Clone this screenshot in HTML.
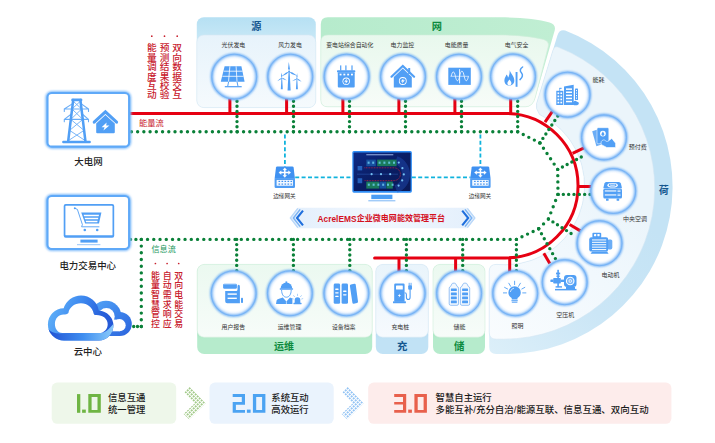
<!DOCTYPE html>
<html lang="zh"><head><meta charset="utf-8"><title>AcrelEMS企业微电网能效管理平台</title>
<style>
html,body{margin:0;padding:0;background:#fff;}
body{width:715px;height:443px;overflow:hidden;font-family:"Liberation Sans","Noto Sans CJK SC",sans-serif;}
svg{display:block}
svg text{font-family:"Liberation Sans","Noto Sans CJK SC",sans-serif;}
</style></head><body>
<svg width="715" height="443" viewBox="0 0 715 443">
<defs>
<radialGradient id="glow" cx="50%" cy="50%" r="50%">
<stop offset="0.86" stop-color="#7db8f5" stop-opacity="0.7"/>
<stop offset="0.94" stop-color="#a9d0f8" stop-opacity="0.45"/>
<stop offset="1" stop-color="#cfe5fb" stop-opacity="0"/>
</radialGradient>
<radialGradient id="cfill" cx="50%" cy="50%" r="50%">
<stop offset="0.78" stop-color="#ffffff"/>
<stop offset="0.9" stop-color="#e9f3fe"/>
<stop offset="1" stop-color="#cfe4fb"/>
</radialGradient>
<linearGradient id="bluePanel" x1="0" y1="0" x2="0" y2="1"><stop offset="0" stop-color="#e7f3fb"/><stop offset="1" stop-color="#f5fafd"/></linearGradient>
<linearGradient id="greenPanel" x1="0" y1="0" x2="0" y2="1"><stop offset="0" stop-color="#e8f8ed"/><stop offset="1" stop-color="#f7fcf8"/></linearGradient>
<linearGradient id="greenPanelB" x1="0" y1="1" x2="0" y2="0"><stop offset="0" stop-color="#e4f7ea"/><stop offset="1" stop-color="#f5fcf7"/></linearGradient>
<linearGradient id="bluePanelB" x1="0" y1="1" x2="0" y2="0"><stop offset="0" stop-color="#e1f0fa"/><stop offset="1" stop-color="#f4f9fd"/></linearGradient>
<linearGradient id="greenHead" x1="0" y1="0" x2="1" y2="0"><stop offset="0" stop-color="#b6ebcc"/><stop offset="1" stop-color="#c0eed3"/></linearGradient>
<linearGradient id="loadBand" gradientUnits="userSpaceOnUse" x1="489" y1="353" x2="620" y2="200"><stop offset="0" stop-color="#dceff9"/><stop offset="0.5" stop-color="#cbe6f6"/><stop offset="1" stop-color="#c4e3f5"/></linearGradient>
<linearGradient id="loadPanel" gradientUnits="userSpaceOnUse" x1="489" y1="340" x2="610" y2="190"><stop offset="0" stop-color="#f9fcfe"/><stop offset="0.6" stop-color="#f1f8fd"/><stop offset="1" stop-color="#ebf5fb"/></linearGradient>
<linearGradient id="greenPanel2" x1="0" y1="0" x2="0" y2="1"><stop offset="0" stop-color="#ebf9f0"/><stop offset="1" stop-color="#f7fcf9"/></linearGradient>
<linearGradient id="bluePanel2" x1="0" y1="0" x2="0" y2="1"><stop offset="0" stop-color="#e9f4fb"/><stop offset="1" stop-color="#f6fafe"/></linearGradient>
<linearGradient id="shG" x1="0" y1="0" x2="0" y2="1"><stop offset="0" stop-color="#8fd9ae" stop-opacity="0.55"/><stop offset="1" stop-color="#b6ebcc" stop-opacity="0"/></linearGradient>
<linearGradient id="shB" x1="0" y1="0" x2="0" y2="1"><stop offset="0" stop-color="#9cc9e8" stop-opacity="0.55"/><stop offset="1" stop-color="#c1e2f5" stop-opacity="0"/></linearGradient>
<linearGradient id="blueHead" gradientUnits="userSpaceOnUse" x1="0" y1="17" x2="0" y2="40"><stop offset="0" stop-color="#b6e0f3"/><stop offset="1" stop-color="#c8e8f6"/></linearGradient>
<filter id="ringblur" x="-15%" y="-15%" width="130%" height="130%"><feGaussianBlur stdDeviation="0.95"/></filter>
<filter id="boxglow" x="-20%" y="-20%" width="140%" height="140%"><feGaussianBlur stdDeviation="1.1"/></filter>
<linearGradient id="cloudA" gradientUnits="userSpaceOnUse" x1="50" y1="302" x2="112" y2="326"><stop offset="0" stop-color="#62b4f9"/><stop offset="0.45" stop-color="#3d88ef"/><stop offset="0.8" stop-color="#2860da"/><stop offset="1" stop-color="#2458d6"/></linearGradient>
<linearGradient id="cloudB" gradientUnits="userSpaceOnUse" x1="100" y1="300" x2="132" y2="336"><stop offset="0" stop-color="#4f9ef4"/><stop offset="0.5" stop-color="#3a80ea"/><stop offset="1" stop-color="#2c63dc"/></linearGradient>
<linearGradient id="cloudC" gradientUnits="userSpaceOnUse" x1="52" y1="0" x2="114" y2="0"><stop offset="0" stop-color="#2558d6"/><stop offset="0.5" stop-color="#3f8ef0"/><stop offset="1" stop-color="#8ccbfa"/></linearGradient>
<linearGradient id="screen" x1="0" y1="0" x2="1" y2="1"><stop offset="0" stop-color="#0d2a86"/><stop offset="0.5" stop-color="#0a1d64"/><stop offset="1" stop-color="#0b1a58"/></linearGradient>
<linearGradient id="banner" x1="0" y1="0" x2="1" y2="0"><stop offset="0" stop-color="#e3effc"/><stop offset="0.5" stop-color="#f1f7fe"/><stop offset="1" stop-color="#e3effc"/></linearGradient>
<pattern id="dotG" width="2.83" height="2.83" patternUnits="userSpaceOnUse" patternTransform="translate(189.7,388.4) rotate(45)"><rect x="-0.68" y="-0.68" width="1.36" height="1.36" fill="#4f9a1e"/><rect x="-0.68" y="2.15" width="1.36" height="1.36" fill="#4f9a1e"/><rect x="2.15" y="-0.68" width="1.36" height="1.36" fill="#4f9a1e"/><rect x="2.15" y="2.15" width="1.36" height="1.36" fill="#4f9a1e"/></pattern>
<pattern id="dotB" width="2.83" height="2.83" patternUnits="userSpaceOnUse" patternTransform="translate(347.7,388.4) rotate(45)"><rect x="-0.68" y="-0.68" width="1.36" height="1.36" fill="#2f8cea"/><rect x="-0.68" y="2.15" width="1.36" height="1.36" fill="#2f8cea"/><rect x="2.15" y="-0.68" width="1.36" height="1.36" fill="#2f8cea"/><rect x="2.15" y="2.15" width="1.36" height="1.36" fill="#2f8cea"/></pattern>
</defs>
<rect width="715" height="443" fill="#fff"/>

<rect x="196.8" y="17.3" width="119" height="90.3" rx="7" fill="url(#blueHead)"/>
<rect x="196.8" y="35" width="119" height="72.6" rx="7" fill="url(#bluePanel)" stroke="#d6e8f4" stroke-width="0.6"/>
<text x="256.3" y="29.5" font-size="10.2" fill="#14578f" text-anchor="middle" font-weight="bold" >源</text>
<path d="M327.8,17.3 L500,17.3 C520,17.3 538,19.2 549.6,22.4 Q556.2,24.4 554.7,30.4 L535.4,97 Q533,106.8 525.4,106.8 L327.8,106.8 Q320.8,106.8 320.8,99.8 L320.8,24.3 Q320.8,17.3 327.8,17.3 Z" fill="url(#greenHead)"/>
<path d="M327.8,35 L500,35 C516,35 532,36.6 543.4,39.4 Q549.6,41.2 548.2,46.8 L535.4,97 Q533,106.8 525.4,106.8 L327.8,106.8 Q320.8,106.8 320.8,99.8 L320.8,42 Q320.8,35 327.8,35 Z" fill="url(#greenPanel)" stroke="#d2eedb" stroke-width="0.6"/>
<text x="436.8" y="29.5" font-size="10.2" fill="#0d8a3e" text-anchor="middle" font-weight="bold" >网</text>
<path d="M557.4,35.6 Q559.2,29.2 565.2,30.6 A167.3,167.3 0 0 1 505.2,354.1 L496.2,354.1 Q489.2,354.1 489.2,347.1 L489.2,271.4 Q489.2,264.4 496.2,264.4 L505.6,264.8 A79.0,79.0 0 0 0 539.6,114.5 Q535.2,108.2 536.6,103.4 Z" fill="url(#loadBand)"/>
<path d="M552.8,50.8 Q554.6,44.8 559.2,47.6 A151.1,151.1 0 0 1 503.6,339.2 L496.2,339.2 Q489.2,339.2 489.2,332.2 L489.2,271.4 Q489.2,264.4 496.2,264.4 L505.6,264.8 A79.0,79.0 0 0 0 539.6,114.5 Q535.2,108.2 536.6,103.4 Z" fill="url(#loadPanel)" stroke="#d3e6f3" stroke-width="0.6"/>
<text x="663.7" y="194.4" font-size="10" fill="#14578f" text-anchor="middle" font-weight="bold" >荷</text>
<rect x="197.2" y="264.4" width="175" height="89.6" rx="7" fill="#b6ebcc"/>
<rect x="197.2" y="329" width="175" height="12.4" rx="6" fill="url(#shG)"/>
<rect x="197.2" y="264.4" width="175" height="72.8" rx="7" fill="url(#greenPanel2)" stroke="#d2eedb" stroke-width="0.6"/>
<text x="283.9" y="349.6" font-size="10" fill="#0d8a3e" text-anchor="middle" font-weight="bold" >运维</text>
<rect x="375.8" y="264.4" width="52.5" height="89.6" rx="7" fill="#c1e2f5"/>
<rect x="375.8" y="329" width="52.5" height="12.4" rx="6" fill="url(#shB)"/>
<rect x="375.8" y="264.4" width="52.5" height="72.8" rx="7" fill="url(#bluePanel2)" stroke="#d6e8f4" stroke-width="0.6"/>
<text x="402.3" y="349.6" font-size="10.4" fill="#14578f" text-anchor="middle" font-weight="bold" >充</text>
<rect x="433" y="264.4" width="52" height="89.6" rx="7" fill="#b6ebcc"/>
<rect x="433" y="329" width="52" height="12.4" rx="6" fill="url(#shG)"/>
<rect x="433" y="264.4" width="52" height="72.8" rx="7" fill="url(#greenPanel2)" stroke="#d2eedb" stroke-width="0.6"/>
<text x="459.2" y="349.6" font-size="10.4" fill="#0d8a3e" text-anchor="middle" font-weight="bold" >储</text>
<g fill="none" stroke="#e60012" stroke-width="3">
<path d="M129.6,113.4 L505.8,113.4 A72.24999999999999,72.24999999999999 0 0 1 505.8,257.9 L374.6,257.9" stroke-linecap="round"/>
<path d="M229.9,97 L229.9,113.4"/>
<path d="M286.6,97 L286.6,113.4"/>
<path d="M342.9,97 L342.9,113.4"/>
<path d="M398.9,97 L398.9,113.4"/>
<path d="M454.9,97 L454.9,113.4"/>
<path d="M510.7,97 L510.7,113.4"/>
<path d="M399,257.9 L399,273"/>
<path d="M455.6,257.9 L455.6,273"/>
<path d="M509.7,257.9 L509.7,273"/>
<path d="M545,122.1 L552.2,111.6"/>
<path d="M572.6,153.4 L584,147.8"/>
<path d="M578,186.5 L591,186.5"/>
<path d="M569.6,224.5 L580.4,230.9"/>
<path d="M543.8,253.3 L549.8,263.4"/>
</g>
<g fill="none" stroke="#0a8038" stroke-width="3.4" stroke-linecap="round">
<path d="M131.4,131.8 L517.7,131.8" stroke-dasharray="0 6.231"/>
<path d="M517.7,131.8 L539.9,142.9" stroke-dasharray="0 6.205"/>
<path d="M539.9,142.9 L557.7,169.4" stroke-dasharray="0 6.385"/>
<path d="M557.7,169.4 L558,194.4" stroke-dasharray="0 6.250"/>
<path d="M558,194.4 L548.4,219" stroke-dasharray="0 6.602"/>
<path d="M548.4,219 L538.7,228.8" stroke-dasharray="0 6.894"/>
<path d="M538.7,228.8 L516.4,239.4" stroke-dasharray="0 6.173"/>
<path d="M516.4,239.4 L141.3,239.4" stroke-dasharray="0 6.252"/>
<path d="M141.3,239.4 L141.3,326.5" stroke-dasharray="0 6.700"/>
<path d="M141.3,326.5 L133.7,326.5" stroke-dasharray="0 3.800"/>
<path d="M141.3,239.4 L130.5,239.4" stroke-dasharray="0 5.400"/>
<path d="M237,131.8 L237,101.2" stroke-dasharray="0 5.100"/>
<path d="M293.5,131.8 L293.5,101.2" stroke-dasharray="0 5.100"/>
<path d="M349.5,131.8 L349.5,101.2" stroke-dasharray="0 5.100"/>
<path d="M405.5,131.8 L405.5,101.2" stroke-dasharray="0 5.100"/>
<path d="M461.5,131.8 L461.5,101.2" stroke-dasharray="0 5.100"/>
<path d="M517.7,131.8 L517.7,101.2" stroke-dasharray="0 5.100"/>
<path d="M236.7,239.4 L236.7,270.6" stroke-dasharray="0 5.200"/>
<path d="M293.4,239.4 L293.4,270.6" stroke-dasharray="0 5.200"/>
<path d="M349.8,239.4 L349.8,270.6" stroke-dasharray="0 5.200"/>
<path d="M406.4,239.4 L406.4,270.6" stroke-dasharray="0 5.200"/>
<path d="M462.7,239.4 L462.7,270.6" stroke-dasharray="0 5.200"/>
<path d="M516.4,239.4 L516.4,270.6" stroke-dasharray="0 5.200"/>
<path d="M539.9,142.9 L557.8,116" stroke-dasharray="0 5.385"/>
<path d="M557.7,169.4 L586,154.6" stroke-dasharray="0 5.323"/>
<path d="M558,194.4 L590,194.4" stroke-dasharray="0 5.333"/>
<path d="M548.4,219 L575.6,236.4" stroke-dasharray="0 5.382"/>
<path d="M538.7,228.8 L555.4,258.6" stroke-dasharray="0 5.693"/>
</g>
<g fill="none" stroke="#10b3dd" stroke-width="1.8" stroke-dasharray="4 2.4">
<path d="M284.9,134.4 L284.9,167"/>
<path d="M295.2,177.4 L352.4,177.4"/>
<path d="M411.8,177.4 L470.6,177.4"/>
<path d="M480.4,134.4 L480.4,167"/>
</g>
<circle cx="234.2" cy="76.7" r="22.5" fill="url(#cfill)"/><circle cx="234.2" cy="76.7" r="22.5" fill="none" stroke="#5fa6f4" stroke-width="2.1" filter="url(#ringblur)"/><circle cx="234.2" cy="76.7" r="22.5" fill="none" stroke="#74b1f5" stroke-width="0.9"/>
<circle cx="290.2" cy="76.7" r="22.5" fill="url(#cfill)"/><circle cx="290.2" cy="76.7" r="22.5" fill="none" stroke="#5fa6f4" stroke-width="2.1" filter="url(#ringblur)"/><circle cx="290.2" cy="76.7" r="22.5" fill="none" stroke="#74b1f5" stroke-width="0.9"/>
<circle cx="346.6" cy="76.7" r="22.5" fill="url(#cfill)"/><circle cx="346.6" cy="76.7" r="22.5" fill="none" stroke="#5fa6f4" stroke-width="2.1" filter="url(#ringblur)"/><circle cx="346.6" cy="76.7" r="22.5" fill="none" stroke="#74b1f5" stroke-width="0.9"/>
<circle cx="403" cy="76.7" r="22.5" fill="url(#cfill)"/><circle cx="403" cy="76.7" r="22.5" fill="none" stroke="#5fa6f4" stroke-width="2.1" filter="url(#ringblur)"/><circle cx="403" cy="76.7" r="22.5" fill="none" stroke="#74b1f5" stroke-width="0.9"/>
<circle cx="459" cy="76.7" r="22.5" fill="url(#cfill)"/><circle cx="459" cy="76.7" r="22.5" fill="none" stroke="#5fa6f4" stroke-width="2.1" filter="url(#ringblur)"/><circle cx="459" cy="76.7" r="22.5" fill="none" stroke="#74b1f5" stroke-width="0.9"/>
<circle cx="513" cy="76.5" r="22.5" fill="url(#cfill)"/><circle cx="513" cy="76.5" r="22.5" fill="none" stroke="#5fa6f4" stroke-width="2.1" filter="url(#ringblur)"/><circle cx="513" cy="76.5" r="22.5" fill="none" stroke="#74b1f5" stroke-width="0.9"/>
<circle cx="567.6" cy="94.7" r="22.5" fill="url(#cfill)"/><circle cx="567.6" cy="94.7" r="22.5" fill="none" stroke="#5fa6f4" stroke-width="2.1" filter="url(#ringblur)"/><circle cx="567.6" cy="94.7" r="22.5" fill="none" stroke="#74b1f5" stroke-width="0.9"/>
<circle cx="604" cy="137.4" r="22.5" fill="url(#cfill)"/><circle cx="604" cy="137.4" r="22.5" fill="none" stroke="#5fa6f4" stroke-width="2.1" filter="url(#ringblur)"/><circle cx="604" cy="137.4" r="22.5" fill="none" stroke="#74b1f5" stroke-width="0.9"/>
<circle cx="613.2" cy="191" r="22.5" fill="url(#cfill)"/><circle cx="613.2" cy="191" r="22.5" fill="none" stroke="#5fa6f4" stroke-width="2.1" filter="url(#ringblur)"/><circle cx="613.2" cy="191" r="22.5" fill="none" stroke="#74b1f5" stroke-width="0.9"/>
<circle cx="599.5" cy="243.2" r="22.5" fill="url(#cfill)"/><circle cx="599.5" cy="243.2" r="22.5" fill="none" stroke="#5fa6f4" stroke-width="2.1" filter="url(#ringblur)"/><circle cx="599.5" cy="243.2" r="22.5" fill="none" stroke="#74b1f5" stroke-width="0.9"/>
<circle cx="564.7" cy="282.2" r="22.5" fill="url(#cfill)"/><circle cx="564.7" cy="282.2" r="22.5" fill="none" stroke="#5fa6f4" stroke-width="2.1" filter="url(#ringblur)"/><circle cx="564.7" cy="282.2" r="22.5" fill="none" stroke="#74b1f5" stroke-width="0.9"/>
<circle cx="233.7" cy="293.3" r="22.5" fill="url(#cfill)"/><circle cx="233.7" cy="293.3" r="22.5" fill="none" stroke="#5fa6f4" stroke-width="2.1" filter="url(#ringblur)"/><circle cx="233.7" cy="293.3" r="22.5" fill="none" stroke="#74b1f5" stroke-width="0.9"/>
<circle cx="289.9" cy="293.3" r="22.5" fill="url(#cfill)"/><circle cx="289.9" cy="293.3" r="22.5" fill="none" stroke="#5fa6f4" stroke-width="2.1" filter="url(#ringblur)"/><circle cx="289.9" cy="293.3" r="22.5" fill="none" stroke="#74b1f5" stroke-width="0.9"/>
<circle cx="346.4" cy="293.3" r="22.5" fill="url(#cfill)"/><circle cx="346.4" cy="293.3" r="22.5" fill="none" stroke="#5fa6f4" stroke-width="2.1" filter="url(#ringblur)"/><circle cx="346.4" cy="293.3" r="22.5" fill="none" stroke="#74b1f5" stroke-width="0.9"/>
<circle cx="402.7" cy="293.3" r="22.5" fill="url(#cfill)"/><circle cx="402.7" cy="293.3" r="22.5" fill="none" stroke="#5fa6f4" stroke-width="2.1" filter="url(#ringblur)"/><circle cx="402.7" cy="293.3" r="22.5" fill="none" stroke="#74b1f5" stroke-width="0.9"/>
<circle cx="459.1" cy="293.3" r="22.5" fill="url(#cfill)"/><circle cx="459.1" cy="293.3" r="22.5" fill="none" stroke="#5fa6f4" stroke-width="2.1" filter="url(#ringblur)"/><circle cx="459.1" cy="293.3" r="22.5" fill="none" stroke="#74b1f5" stroke-width="0.9"/>
<circle cx="515.2" cy="293.3" r="22.5" fill="url(#cfill)"/><circle cx="515.2" cy="293.3" r="22.5" fill="none" stroke="#5fa6f4" stroke-width="2.1" filter="url(#ringblur)"/><circle cx="515.2" cy="293.3" r="22.5" fill="none" stroke="#74b1f5" stroke-width="0.9"/>
<text x="233.4" y="47.1" font-size="5.9" fill="#333" text-anchor="middle" font-weight="normal" >光伏发电</text>
<text x="290" y="47.1" font-size="5.9" fill="#333" text-anchor="middle" font-weight="normal" >风力发电</text>
<text x="349.8" y="47.1" font-size="5.9" fill="#333" text-anchor="middle" font-weight="normal" >变电站综合自动化</text>
<text x="402.4" y="47.1" font-size="5.9" fill="#333" text-anchor="middle" font-weight="normal" >电力监控</text>
<text x="456.6" y="47.1" font-size="5.9" fill="#333" text-anchor="middle" font-weight="normal" >电能质量</text>
<text x="516.6" y="47.1" font-size="5.9" fill="#333" text-anchor="middle" font-weight="normal" >电气安全</text>
<text x="233.3" y="329.4" font-size="5.9" fill="#333" text-anchor="middle" font-weight="normal" >用户报告</text>
<text x="289.5" y="329.4" font-size="5.9" fill="#333" text-anchor="middle" font-weight="normal" >运维管理</text>
<text x="343.7" y="329.4" font-size="5.9" fill="#333" text-anchor="middle" font-weight="normal" >设备档案</text>
<text x="400.3" y="329.4" font-size="5.9" fill="#333" text-anchor="middle" font-weight="normal" >充电桩</text>
<text x="459.4" y="329.4" font-size="5.9" fill="#333" text-anchor="middle" font-weight="normal" >储能</text>
<text x="517.4" y="328.0" font-size="5.9" fill="#333" text-anchor="middle" font-weight="normal" >照明</text>
<text x="598.5" y="82" font-size="6" fill="#333" text-anchor="middle" font-weight="normal" >能耗</text>
<text x="637.7" y="149.3" font-size="6" fill="#333" text-anchor="middle" font-weight="normal" >预付费</text>
<text x="635" y="220.9" font-size="6" fill="#333" text-anchor="middle" font-weight="normal" >中央空调</text>
<text x="610.6" y="277.3" font-size="6" fill="#333" text-anchor="middle" font-weight="normal" >电动机</text>
<text x="565.3" y="316.7" font-size="6" fill="#333" text-anchor="middle" font-weight="normal" >空压机</text>
<g fill="#519ff5"><polygon points="224.6,66.3 241.4,66.3 244.6,81.7 220.8,81.7"/></g><g stroke="#fff" stroke-width="0.8" fill="none"><path d="M229.9,66.3 L228.5,81.7 M236.1,66.3 L237,81.7 M223.7,71.2 L242.5,71.2 M222.4,76.3 L243.5,76.3"/></g><g stroke="#519ff5" fill="none"><path d="M228.6,81.7 L227.7,86.3 M237,81.7 L238,86.3" stroke-width="1"/><path d="M224.8,86.7 L241.7,86.7" stroke-width="1.2"/></g>
<polygon points="281.45,78 282.15,78 282.80,89.3 280.80,89.3" fill="#519ff5"/><polygon points="281.80,78.00 282.21,76.01 281.41,72.41 281.11,76.08" fill="#519ff5"/><polygon points="281.80,78.00 283.32,79.35 286.83,80.45 283.80,78.36" fill="#519ff5"/><polygon points="281.80,78.00 279.87,78.64 277.16,81.13 280.48,79.55" fill="#519ff5"/><circle cx="281.8" cy="78" r="0.60" fill="#519ff5"/><polygon points="296.55,78.7 297.25,78.7 297.90,89.3 295.90,89.3" fill="#519ff5"/><polygon points="296.90,78.70 297.52,76.76 297.10,73.10 296.42,76.72" fill="#519ff5"/><polygon points="296.90,78.70 298.27,80.21 301.65,81.67 298.85,79.27" fill="#519ff5"/><polygon points="296.90,78.70 294.91,79.13 291.96,81.33 295.43,80.11" fill="#519ff5"/><circle cx="296.9" cy="78.7" r="0.60" fill="#519ff5"/><polygon points="288.56,71.6 289.64,71.6 290.65,90.6 287.55,90.6" fill="#519ff5"/><polygon points="289.10,71.60 289.83,68.21 288.76,62.01 288.13,68.27" fill="#519ff5"/><polygon points="289.10,71.60 291.67,73.93 297.58,76.11 292.47,72.42" fill="#519ff5"/><polygon points="289.10,71.60 285.80,72.66 280.96,76.69 286.70,74.10" fill="#519ff5"/><circle cx="289.1" cy="71.6" r="0.93" fill="#519ff5"/>
<g fill="#519ff5"><rect x="337" y="70.2" width="18.3" height="2.3" rx="0.8"/><rect x="337.8" y="72.2" width="16.9" height="15.4" rx="1"/><rect x="340.09999999999997" y="65.4" width="1.2" height="5.2"/><rect x="345.29999999999995" y="65.4" width="1.2" height="5.2"/><rect x="351.4" y="65.4" width="1.2" height="5.2"/></g><rect x="339.6" y="73.7" width="1.9" height="1.7" fill="#fff"/><rect x="343.4" y="73.7" width="1.9" height="1.7" fill="#fff"/><rect x="347.2" y="73.7" width="1.9" height="1.7" fill="#fff"/><rect x="351" y="73.7" width="1.9" height="1.7" fill="#fff"/><circle cx="346.2" cy="81.3" r="3.7" fill="#fff"/><circle cx="346.2" cy="81.3" r="2.9" fill="#519ff5"/><polygon points="346.94,78.57 344.31,81.83 345.99,81.83 345.36,84.03 348.09,80.67 346.41,80.67" fill="#fff"/>
<path d="M391.5,76.7 L402.8,66.0 L414.1,76.7" fill="none" stroke="#519ff5" stroke-width="2.2" stroke-linejoin="miter" stroke-linecap="round"/><polygon points="393.8,77.10000000000001 402.8,68.60000000000001 411.8,77.10000000000001 411.8,87.5 393.8,87.5" fill="#519ff5"/><rect x="408.2" y="68.0" width="2" height="6" fill="#519ff5"/><circle cx="402.8" cy="81" r="3.9" fill="#fff"/><circle cx="402.8" cy="81" r="3.1" fill="#519ff5"/><polygon points="403.57,78.14 400.82,81.55 402.58,81.55 401.92,83.86 404.78,80.34 403.02,80.34" fill="#fff"/>
<rect x="448.3" y="67.7" width="22.5" height="17.2" fill="#519ff5"/><g stroke="#fff" fill="none" stroke-width="0.8"><path d="M450.5,76.3 L468.8,76.3" stroke-width="0.6"/><path d="M459.6,69.2 L459.6,83.4" stroke-width="0.9"/><path d="M451.2,76.3 C452.4,70.5 454.2,70.5 455.4,76.3 C456.6,82.2 458.4,82.2 459.6,76.3 C460.8,69.5 463,69.5 464.2,76.3 C465.4,82.2 467.2,82.2 468.4,76.3"/></g>
<path d="M509.6,70 C510.6,73.6 514.3,76 514.3,80.6 C514.3,83.8 512,85.6 509.3,85.6 C506.4,85.6 504.4,83.6 504.4,80.6 C504.4,78 505.9,76.6 506.5,74.6 C507.5,75.6 507.9,76.6 508,77.8 C509.3,75.6 509.9,73 509.6,70 Z" fill="#519ff5"/><path d="M509.4,79.5 C510.6,81 511.4,81.8 511.4,83.2 C511.4,84.6 510.5,85.3 509.4,85.3 C508.2,85.3 507.4,84.5 507.4,83.2 C507.4,81.9 508.5,81 509.4,79.5 Z" fill="#fff"/><rect x="515.6" y="72" width="1.9" height="14.8" fill="#519ff5"/><path d="M522.6,67 C520,68.8 519.6,70.8 521.4,72.8 C523.2,74.8 522.6,77.4 520,79.6" stroke="#519ff5" stroke-width="1.5" fill="none" stroke-linecap="round"/>
<g fill="#519ff5"><rect x="556.3" y="90.8" width="7" height="14.2"/><polygon points="564,105 564,86.6 573.7,84.8 573.7,105"/><rect x="575" y="88.6" width="3" height="11.4" rx="0.6"/><ellipse cx="575.6" cy="103.4" rx="3.2" ry="1.8"/><circle cx="575.2" cy="102.3" r="1.6"/><rect x="559.4" y="88.2" width="0.7" height="2.8"/><rect x="559.4" y="87.8" width="2.2" height="1.1"/></g><g fill="#fff"><rect x="557.5" y="92.4" width="1.7" height="1.7"/><rect x="560.4" y="92.4" width="1.7" height="1.7"/><rect x="557.5" y="95.5" width="1.7" height="1.7"/><rect x="560.4" y="95.5" width="1.7" height="1.7"/><rect x="557.5" y="98.6" width="1.7" height="1.7"/><rect x="560.4" y="98.6" width="1.7" height="1.7"/><rect x="557.5" y="101.7" width="1.7" height="1.7"/><rect x="560.4" y="101.7" width="1.7" height="1.7"/><rect x="566" y="88.4" width="6" height="1.5"/><rect x="566" y="91.5" width="6" height="1.5"/><rect x="566" y="94.6" width="6" height="1.5"/><rect x="566" y="97.7" width="6" height="1.5"/><rect x="566" y="100.8" width="6" height="1.5"/><rect x="576" y="90.0" width="1" height="1.2"/><rect x="576" y="92.5" width="1" height="1.2"/><rect x="576" y="95.0" width="1" height="1.2"/><rect x="576" y="97.5" width="1" height="1.2"/></g>
<polygon points="592.2,131.2 597.6,129.6 601.6,144.6 596.4,146.2" fill="#519ff5" opacity="0.85"/><rect x="597" y="127.7" width="11.8" height="16" rx="1.2" fill="#519ff5" stroke="#fff" stroke-width="0.5"/><circle cx="602.9" cy="133.6" r="2.9" fill="#fff"/><path d="M602.9,131.6 C603.9,133 604.3,133.6 604.3,134.4 A1.4,1.4 0 0 1 601.5,134.4 C601.5,133.6 601.9,133 602.9,131.6 Z" fill="#519ff5"/><path d="M601.2,141.6 C602.6,139.4 604.4,139.6 605.6,140.8 C606.8,142 608,141.4 609.4,140.2 L611.8,138.4 L615.6,143.2 L615.6,147.5 L606.8,147.5 L601,144.4 Z" fill="#519ff5" stroke="#fff" stroke-width="0.6"/>
<path d="M606.2,181.9 L618.8,181.9 Q620.4,181.9 620.9,183.6 L622,188.3 L603.3,188.3 L604.4,183.6 Q604.8,181.9 606.2,181.9 Z" fill="#519ff5"/><ellipse cx="612.6" cy="185.2" rx="5.2" ry="2.3" fill="#fff"/><ellipse cx="612.6" cy="185.2" rx="3.9" ry="1.4" fill="#519ff5"/><path d="M610,184.6 L615.2,185.8 M615.2,184.6 L610,185.8" stroke="#fff" stroke-width="0.5"/><rect x="603.3" y="188.6" width="18.7" height="10" rx="1.6" fill="#519ff5"/><g fill="#fff"><rect x="604.8" y="190.4" width="11.5" height="1.1"/><rect x="604.8" y="194.4" width="11.5" height="1.1"/><rect x="617.5" y="189.8" width="3" height="0.7"/><rect x="617.5" y="191.3" width="3" height="0.7"/><rect x="617.5" y="193.8" width="3" height="0.7"/><rect x="617.5" y="195.3" width="3" height="0.7"/></g><rect x="606" y="198.4" width="2.6" height="2.4" rx="0.6" fill="#519ff5"/><rect x="616.6" y="198.4" width="2.6" height="2.4" rx="0.6" fill="#519ff5"/>
<rect x="592.4" y="232.8" width="8.8" height="5.2" rx="1" fill="#519ff5"/><rect x="594" y="234" width="2.2" height="2.2" rx="0.4" fill="#fff"/><rect x="597.4" y="234" width="2.2" height="2.2" rx="0.4" fill="#fff"/><rect x="589.2" y="237.2" width="19" height="14.4" rx="2.2" fill="#519ff5"/><rect x="607.6" y="239.4" width="4.7" height="10" rx="1.6" fill="#519ff5" opacity="0.85"/><rect x="592" y="239.4" width="14.2" height="1.1" fill="#fff" opacity="0.9"/><rect x="592" y="241.8" width="14.2" height="1.1" fill="#fff" opacity="0.9"/><rect x="592" y="244.2" width="14.2" height="1.1" fill="#fff" opacity="0.9"/><rect x="592" y="246.6" width="14.2" height="1.1" fill="#fff" opacity="0.9"/><rect x="592" y="249.0" width="14.2" height="1.1" fill="#fff" opacity="0.9"/><polygon points="592.2,251.4 607,251.4 608.6,253.8 590.6,253.8" fill="#519ff5"/>
<g fill="#519ff5"><rect x="555" y="288.9" width="21.5" height="1.5"/><rect x="555.6" y="286.2" width="6.4" height="1.4"/><rect x="557.3" y="269.8" width="1.6" height="17.4"/><rect x="556" y="272.6" width="4.2" height="1.8"/><rect x="556.4" y="275.6" width="3.4" height="1.2"/><rect x="553.2" y="278" width="7.6" height="5.6" rx="0.8"/><rect x="550.4" y="279.5" width="3" height="2.6" rx="0.6"/><rect x="560.6" y="279.6" width="4" height="2.4"/><rect x="564" y="275" width="12.5" height="12" rx="3"/><rect x="566" y="287" width="9" height="2"/></g><circle cx="570.2" cy="281" r="4.3" fill="#fff"/><circle cx="570.2" cy="281" r="3.2" fill="#519ff5" opacity="0.75"/><circle cx="570.2" cy="281" r="1.7" fill="#fff"/><circle cx="570.2" cy="281" r="0.8" fill="#519ff5"/>
<path d="M511.7,299.4 L511.7,298 C509.6,296.6 508.4,294.8 508.4,292.4 A6.2,6.2 0 0 1 520.8,292.4 C520.8,294.8 519.6,296.6 517.5,298 L517.5,299.4 Z" fill="#519ff5"/><path d="M510.4,291.6 A4.2,4.2 0 0 1 513.6,288.2" stroke="#cfe4fc" stroke-width="1" fill="none" stroke-linecap="round"/><g stroke="#519ff5" stroke-width="1" stroke-linecap="round"><path d="M511.8,300.7 L517.4,300.7 M512.2,302.2 L517,302.2"/><path d="M514.6,281.2 L514.6,284.6 M508.8,283.2 L510.7,286.4 M520.4,283.2 L518.5,286.4 M504.6,287.4 L507.6,289 M524.8,287.4 L521.8,289 M503.4,292.9 L506.6,292.9 M522.7,292.9 L525.9,292.9" stroke-width="0.9"/></g>
<g fill="#519ff5"><rect x="223.1" y="283.7" width="13.8" height="5" rx="1.3"/><path d="M237.5,289.6 L237.5,286.2 Q237.5,284.7 238.6,284.7 Q239.9,284.7 239.9,286.6 L239.9,303.3 L227.2,303.3 Q225.2,303.3 225.2,301.3 L225.2,290.9 L236.6,290.9 Q237.5,290.9 237.5,289.6 Z"/><rect x="241" y="297.8" width="2" height="5.3" rx="0.8"/></g><g fill="#fff"><rect x="227.6" y="293.4" width="9.2" height="1.4"/><rect x="227.6" y="297.6" width="9.2" height="1.4"/></g><rect x="223.6" y="283.9" width="12.8" height="1.2" rx="0.6" fill="#8ec2f9" opacity="0.7"/>
<g fill="#519ff5"><path d="M280.6,288.6 A5.8,6 0 0 1 292.2,288.6 Z"/><rect x="279.6" y="288.2" width="13.6" height="1.6" rx="0.8"/><rect x="285.5" y="281.4" width="1.7" height="3"/><path d="M276,304 L276.6,300.6 Q277,299.4 278.4,299 L282.8,297.6 L286.4,301.4 L290,297.6 L292.4,298.6 L292.4,304 Z"/></g><path d="M281.6,290 C281.6,294.4 283.6,297.2 286.4,297.2 C289.2,297.2 291.2,294.4 291.2,290" fill="#fff" stroke="#519ff5" stroke-width="0.9"/><path d="M286.4,301.4 L286.4,304" stroke="#fff" stroke-width="0.6"/><path d="M294.7,303 L294.7,300 A2.8,2.8 0 0 1 300.3,300 L300.3,303 Z" fill="#519ff5"/><rect x="293.4" y="302.8" width="8.2" height="1.4" rx="0.4" fill="#519ff5"/><g stroke="#8cc0f8" stroke-width="0.7" stroke-linecap="round"><path d="M297.5,294.2 L297.5,295.6 M293.6,295.6 L294.6,296.8 M301.4,295.6 L300.4,296.8 M292.3,298.6 L293.4,299 M302.8,298.6 L301.7,299"/></g>
<g fill="#519ff5"><rect x="333.7" y="283.5" width="6.4" height="20.3" rx="1.4"/><rect x="341.6" y="283.5" width="6.4" height="20.3" rx="1.4"/><path d="M350.9,284.6 L354.2,283.7 Q355.4,283.4 355.7,284.6 L358,301.6 Q358.1,302.8 357,303 L353.8,303.7 Q352.6,303.9 352.4,302.7 L349.9,285.9 Q349.8,284.9 350.9,284.6 Z"/></g><g fill="#fff"><rect x="335.2" y="288.6" width="3.4" height="1.3" rx="0.4"/><rect x="335.2" y="292.2" width="3.4" height="1.3" rx="0.4"/><rect x="335.2" y="295.8" width="3.4" height="1.3" rx="0.4"/><rect x="343.1" y="290.6" width="3.4" height="1.3" rx="0.4"/><rect x="343.1" y="294.2" width="3.4" height="1.3" rx="0.4"/></g>
<g fill="#519ff5"><rect x="394.2" y="283.5" width="10.4" height="18.2" rx="1.2"/><rect x="393" y="301.2" width="12.9" height="2.1" rx="0.5"/><rect x="408.2" y="285.3" width="3.8" height="4.4" rx="0.9"/><rect x="408.7" y="282.8" width="0.9" height="2.8"/><rect x="410.6" y="282.8" width="0.9" height="2.8"/></g><rect x="396" y="285.4" width="6.8" height="4.2" rx="0.5" fill="#fff"/><polygon points="400.00,293.39 397.87,296.03 399.23,296.03 398.72,297.81 400.93,295.09 399.57,295.09" fill="#fff"/><path d="M410.1,289.6 L410.1,297.2 C410.1,300.2 406.4,300.2 406.4,297.2 L406.4,294.4 C406.4,293.2 405.6,292.8 404.6,292.8" stroke="#519ff5" stroke-width="1.1" fill="none"/>
<path d="M450.59999999999997,286.4 L452.0,283.8 Q452.3,283.2 453.0,283.2 L454.7,283.2 Q455.4,283.2 455.7,283.8 L457.1,286.4 Q458.5,286.8 458.5,288.2 L458.5,303.8 Q458.5,305.3 457.0,305.3 L450.7,305.3 Q449.2,305.3 449.2,303.8 L449.2,288.2 Q449.2,286.8 450.59999999999997,286.4 Z" fill="#f3f8fe" stroke="#7db4f2" stroke-width="0.8"/><rect x="450.9" y="288.40" width="5.9" height="2.7" rx="0.5" fill="#519ff5"/><rect x="450.9" y="292.45" width="5.9" height="2.7" rx="0.5" fill="#519ff5"/><rect x="450.9" y="296.50" width="5.9" height="2.7" rx="0.5" fill="#519ff5"/><rect x="450.9" y="300.55" width="5.9" height="2.7" rx="0.5" fill="#519ff5"/><path d="M461.79999999999995,286.4 L463.2,283.8 Q463.5,283.2 464.2,283.2 L465.9,283.2 Q466.59999999999997,283.2 466.9,283.8 L468.3,286.4 Q469.7,286.8 469.7,288.2 L469.7,303.8 Q469.7,305.3 468.2,305.3 L461.9,305.3 Q460.4,305.3 460.4,303.8 L460.4,288.2 Q460.4,286.8 461.79999999999995,286.4 Z" fill="#f3f8fe" stroke="#7db4f2" stroke-width="0.8"/><rect x="462.09999999999997" y="288.40" width="5.9" height="2.7" rx="0.5" fill="#519ff5"/><rect x="462.09999999999997" y="292.45" width="5.9" height="2.7" rx="0.5" fill="#519ff5"/><rect x="462.09999999999997" y="296.50" width="5.9" height="2.7" rx="0.5" fill="#519ff5"/><rect x="462.09999999999997" y="300.55" width="5.9" height="2.7" rx="0.5" fill="#519ff5"/>
<rect x="47.1" y="92.6" width="82.39999999999999" height="54.4" rx="5" fill="none" stroke="#7fbbfa" stroke-width="3.4" filter="url(#boxglow)"/><rect x="47.5" y="93" width="81.6" height="53.6" rx="4.2" fill="#fff" stroke="#5fa9f8" stroke-width="2.1"/>
<rect x="47.1" y="195.6" width="82.39999999999999" height="53.8" rx="5" fill="none" stroke="#7fbbfa" stroke-width="3.4" filter="url(#boxglow)"/><rect x="47.5" y="196" width="81.6" height="53" rx="4.2" fill="#fff" stroke="#5fa9f8" stroke-width="2.1"/>
<g stroke="#519ff5" fill="none" stroke-linecap="round" stroke-linejoin="round"><path d="M73.2,100 L68.2,141 M80.4,100 L85.4,141" stroke-width="2.5"/><path d="M72.6,99.9 L81,99.9" stroke-width="2.8"/><path d="M63.4,142 L89.6,142" stroke-width="2.5"/><g stroke-width="1.1" opacity="0.85"><path d="M64.3,109 L72.6,103.6 M81,103.6 L88.5,109 M64.3,109 L88.5,109 M64.3,109 L64.3,111.4 M88.5,109 L88.5,111.4"/><path d="M64.3,119.4 L71.4,114 M82.2,114 L88.5,119.4 M64.3,119.4 L88.5,119.4 M64.3,119.4 L64.3,121.8 M88.5,119.4 L88.5,121.8"/><path d="M73,101 L81.6,109 M80.6,101 L72,109 L82.8,119.4 M81.6,109 L70.8,119.4 L84,130.4 M82.8,119.4 L69.6,130.4 L85.2,140.6 M84,130.4 L68.4,140.6" stroke-width="0.9"/></g></g>
<path d="M94.2,122.2 L105.4,111.8 L116.6,122.2" fill="none" stroke="#519ff5" stroke-width="3" stroke-linejoin="miter" stroke-linecap="round"/><path d="M96.2,123.6 L105.4,115 L114.8,123.6 L114.8,132.2 Q114.8,133.3 113.7,133.3 L97.3,133.3 Q96.2,133.3 96.2,132.2 Z" fill="#519ff5"/><polygon points="106.6,122.6 101.6,127.3 104.6,127.3 103.4,130.6 109.4,125.5 106.2,125.5" fill="#fff"/>
<rect x="63.7" y="204.1" width="50.5" height="33.7" rx="2" fill="#519ff5"/><rect x="65.4" y="205.8" width="47.1" height="29.5" rx="0.6" fill="#fff"/><rect x="80.4" y="239.6" width="17.2" height="3" fill="#519ff5"/><path d="M77,244.7 L100.4,244.7" stroke="#8cc0f8" stroke-width="0.9"/><g stroke="#519ff5" fill="none" stroke-linecap="round" stroke-linejoin="round"><path d="M75.2,208.4 L77.4,209.4 L82.4,224.6 L81.6,226.8 L99,226.8" stroke-width="0.9"/></g><circle cx="74.8" cy="208.2" r="1" fill="#519ff5"/><polygon points="81.2,212.4 101.4,212.4 99,223.6 85.2,223.6" fill="#519ff5"/><g fill="#fff"><polygon points="83.6,214.8 99,214.8 98.7,216.2 84.1,216.2"/><polygon points="84.6,217.8 98.3,217.8 98,219.2 85.1,219.2"/><polygon points="85.6,220.8 97.6,220.8 97.3,222.2 86.1,222.2"/></g><circle cx="84.8" cy="230" r="1.3" fill="#519ff5"/><circle cx="97.2" cy="230" r="1.3" fill="#519ff5"/>
<text x="88.5" y="164.6" font-size="9.45" fill="#222" text-anchor="middle" font-weight="500" >大电网</text>
<text x="87.7" y="268.6" font-size="9.45" fill="#222" text-anchor="middle" font-weight="500" >电力交易中心</text>
<text x="87.8" y="355.1" font-size="9.45" fill="#222" text-anchor="middle" font-weight="500" >云中心</text>
<text x="138.9" y="126" font-size="8.25" fill="#c8202d" text-anchor="start" font-weight="normal" >能量流</text>
<text x="151.4" y="252.4" font-size="8.15" fill="#1c9860" text-anchor="start" font-weight="normal" >信息流</text>
<g>
<clipPath id="cf"><circle cx="64" cy="324.4" r="16.1"/><circle cx="81" cy="313.6" r="18.1"/><circle cx="98.5" cy="325.6" r="14.9"/><rect x="64" y="320" width="35" height="20.5"/></clipPath>
<g fill="url(#cloudB)"><circle cx="106" cy="316" r="15.3"/><circle cx="119.8" cy="324" r="12"/><rect x="100" y="322" width="20" height="14"/></g>
<g fill="#fff"><circle cx="106.4" cy="316.4" r="8.3"/><circle cx="119.6" cy="325.2" r="6.1"/><rect x="104" y="319.6" width="15.6" height="11.7"/></g>
<g clip-path="url(#cf)"><rect x="46" y="294" width="70" height="48" fill="url(#cloudA)"/>
<path d="M46,342 L46,326 C52,336 60,333 70,333 L100,333 C108,333 110,326 116,322 L116,342 Z" fill="url(#cloudC)"/></g>
<path d="M62.4,333 C57.4,333 54.9,328.4 54.9,323.8 C54.9,318.4 58.6,314.4 63.6,314.4 C65.6,314.4 67.2,314 68.4,312.9 C69.4,307.4 74.4,303.3 80.9,303.3 C87.6,303.3 92.6,307.8 93.7,313.8 C94,314.6 94.6,315 95.6,315 C102.6,314.7 107.7,318.6 107.7,324.2 C107.7,329.2 104,333 99,333 Z" fill="#fff"/>
</g>
<circle cx="151.8" cy="36.2" r="0.85" fill="#c8202d"/>
<text transform="translate(151.8,51.1) scale(1,0.94)" font-size="9.7" fill="#c8202d" text-anchor="middle" font-weight="500">能</text><text transform="translate(151.8,60.5) scale(1,0.94)" font-size="9.7" fill="#c8202d" text-anchor="middle" font-weight="500">量</text><text transform="translate(151.8,70.0) scale(1,0.94)" font-size="9.7" fill="#c8202d" text-anchor="middle" font-weight="500">调</text><text transform="translate(151.8,79.5) scale(1,0.94)" font-size="9.7" fill="#c8202d" text-anchor="middle" font-weight="500">度</text><text transform="translate(151.8,88.9) scale(1,0.94)" font-size="9.7" fill="#c8202d" text-anchor="middle" font-weight="500">互</text><text transform="translate(151.8,98.3) scale(1,0.94)" font-size="9.7" fill="#c8202d" text-anchor="middle" font-weight="500">动</text>
<circle cx="164.5" cy="36.2" r="0.85" fill="#c8202d"/>
<text transform="translate(164.5,51.1) scale(1,0.94)" font-size="9.7" fill="#c8202d" text-anchor="middle" font-weight="500">预</text><text transform="translate(164.5,60.5) scale(1,0.94)" font-size="9.7" fill="#c8202d" text-anchor="middle" font-weight="500">测</text><text transform="translate(164.5,70.0) scale(1,0.94)" font-size="9.7" fill="#c8202d" text-anchor="middle" font-weight="500">结</text><text transform="translate(164.5,79.5) scale(1,0.94)" font-size="9.7" fill="#c8202d" text-anchor="middle" font-weight="500">果</text><text transform="translate(164.5,88.9) scale(1,0.94)" font-size="9.7" fill="#c8202d" text-anchor="middle" font-weight="500">校</text><text transform="translate(164.5,98.3) scale(1,0.94)" font-size="9.7" fill="#c8202d" text-anchor="middle" font-weight="500">验</text>
<circle cx="177.2" cy="36.2" r="0.85" fill="#c8202d"/>
<text transform="translate(177.2,51.1) scale(1,0.94)" font-size="9.7" fill="#c8202d" text-anchor="middle" font-weight="500">双</text><text transform="translate(177.2,60.5) scale(1,0.94)" font-size="9.7" fill="#c8202d" text-anchor="middle" font-weight="500">向</text><text transform="translate(177.2,70.0) scale(1,0.94)" font-size="9.7" fill="#c8202d" text-anchor="middle" font-weight="500">数</text><text transform="translate(177.2,79.5) scale(1,0.94)" font-size="9.7" fill="#c8202d" text-anchor="middle" font-weight="500">据</text><text transform="translate(177.2,88.9) scale(1,0.94)" font-size="9.7" fill="#c8202d" text-anchor="middle" font-weight="500">交</text><text transform="translate(177.2,98.3) scale(1,0.94)" font-size="9.7" fill="#c8202d" text-anchor="middle" font-weight="500">互</text>
<circle cx="155.4" cy="263.5" r="0.85" fill="#c8202d"/>
<text transform="translate(155.4,278.7) scale(1,1.08)" font-size="8.9" fill="#c8202d" text-anchor="middle" font-weight="500">能</text><text transform="translate(155.4,288.3) scale(1,1.08)" font-size="8.9" fill="#c8202d" text-anchor="middle" font-weight="500">量</text><text transform="translate(155.4,298.0) scale(1,1.08)" font-size="8.9" fill="#c8202d" text-anchor="middle" font-weight="500">智</text><text transform="translate(155.4,307.6) scale(1,1.08)" font-size="8.9" fill="#c8202d" text-anchor="middle" font-weight="500">慧</text><text transform="translate(155.4,317.2) scale(1,1.08)" font-size="8.9" fill="#c8202d" text-anchor="middle" font-weight="500">管</text><text transform="translate(155.4,326.9) scale(1,1.08)" font-size="8.9" fill="#c8202d" text-anchor="middle" font-weight="500">控</text>
<circle cx="167.1" cy="263.5" r="0.85" fill="#c8202d"/>
<text transform="translate(167.1,278.7) scale(1,1.08)" font-size="8.9" fill="#c8202d" text-anchor="middle" font-weight="500">自</text><text transform="translate(167.1,288.3) scale(1,1.08)" font-size="8.9" fill="#c8202d" text-anchor="middle" font-weight="500">动</text><text transform="translate(167.1,298.0) scale(1,1.08)" font-size="8.9" fill="#c8202d" text-anchor="middle" font-weight="500">需</text><text transform="translate(167.1,307.6) scale(1,1.08)" font-size="8.9" fill="#c8202d" text-anchor="middle" font-weight="500">求</text><text transform="translate(167.1,317.2) scale(1,1.08)" font-size="8.9" fill="#c8202d" text-anchor="middle" font-weight="500">响</text><text transform="translate(167.1,326.9) scale(1,1.08)" font-size="8.9" fill="#c8202d" text-anchor="middle" font-weight="500">应</text>
<circle cx="178.7" cy="263.5" r="0.85" fill="#c8202d"/>
<text transform="translate(178.7,278.7) scale(1,1.08)" font-size="8.9" fill="#c8202d" text-anchor="middle" font-weight="500">双</text><text transform="translate(178.7,288.3) scale(1,1.08)" font-size="8.9" fill="#c8202d" text-anchor="middle" font-weight="500">向</text><text transform="translate(178.7,298.0) scale(1,1.08)" font-size="8.9" fill="#c8202d" text-anchor="middle" font-weight="500">电</text><text transform="translate(178.7,307.6) scale(1,1.08)" font-size="8.9" fill="#c8202d" text-anchor="middle" font-weight="500">能</text><text transform="translate(178.7,317.2) scale(1,1.08)" font-size="8.9" fill="#c8202d" text-anchor="middle" font-weight="500">交</text><text transform="translate(178.7,326.9) scale(1,1.08)" font-size="8.9" fill="#c8202d" text-anchor="middle" font-weight="500">易</text>
<rect x="352.3" y="151.1" width="59.6" height="41.6" rx="1.6" fill="#2f8df5"/>
<rect x="353.6" y="152.4" width="57" height="38.6" rx="0.8" fill="url(#screen)"/>
<rect x="371.3" y="194.7" width="21.1" height="4.4" fill="#4b9df4"/>
<path d="M368.3,200.8 L395.4,200.8" stroke="#7ab6f6" stroke-width="1"/>
<g>
<rect x="366.3" y="154.2" width="27" height="1.1" fill="#b9d3ff" opacity="0.75"/>
<path d="M396,160 A15.5,15.5 0 0 1 396,189" fill="none" stroke="#2458c4" stroke-width="8" opacity="0.38"/>
<rect x="366.3" y="159.6" width="9.5" height="6.6" fill="#17509f"/><rect x="377.2" y="159.6" width="19.4" height="6.6" fill="#1a7a5c"/>
<rect x="366.3" y="181.6" width="13" height="7" fill="#1a7a5c"/><rect x="379.6" y="181.6" width="6.5" height="7" fill="#17509f"/><rect x="386.4" y="181.6" width="6.4" height="7" fill="#1a7a5c"/>
<rect x="367.6" y="161.6" width="2" height="2.2" fill="#6fd0f5" opacity="0.8"/>
<rect x="372.2" y="161.6" width="2" height="2.2" fill="#6fd0f5" opacity="0.8"/>
<rect x="378.6" y="161.6" width="2" height="2.2" fill="#6fd0f5" opacity="0.8"/>
<rect x="383.4" y="161.6" width="2" height="2.2" fill="#6fd0f5" opacity="0.8"/>
<rect x="388.2" y="161.6" width="2" height="2.2" fill="#6fd0f5" opacity="0.8"/>
<rect x="393" y="161.6" width="2" height="2.2" fill="#6fd0f5" opacity="0.8"/>
<rect x="367.8" y="183.6" width="2" height="2.2" fill="#6fd0f5" opacity="0.8"/>
<rect x="372.6" y="183.6" width="2" height="2.2" fill="#6fd0f5" opacity="0.8"/>
<rect x="377.4" y="183.6" width="2" height="2.2" fill="#6fd0f5" opacity="0.8"/>
<rect x="382.2" y="183.6" width="2" height="2.2" fill="#6fd0f5" opacity="0.8"/>
<rect x="387" y="183.6" width="2" height="2.2" fill="#6fd0f5" opacity="0.8"/>
<rect x="391.6" y="183.6" width="2" height="2.2" fill="#6fd0f5" opacity="0.8"/>
<rect x="357.6" y="166" width="4.6" height="4.4" fill="#2a6fd0" opacity="0.8"/><rect x="357.6" y="178.2" width="4.6" height="5" fill="#2a6fd0" opacity="0.8"/>
<path d="M364.4,167.8 L394,167.8 A6.4,6.4 0 0 1 394,180.6 L364.4,180.6" fill="none" stroke="#e0243a" stroke-width="0.7" stroke-dasharray="0.9 0.7"/>
<path d="M357,174.2 L398,174.2" stroke="#3a78d8" stroke-width="0.5" opacity="0.7"/>
<circle cx="371.6" cy="174.2" r="1.1" fill="#7fd0ff" opacity="0.9"/>
<circle cx="381" cy="174.2" r="1.1" fill="#7fd0ff" opacity="0.9"/>
<circle cx="390.2" cy="174.2" r="1.1" fill="#7fd0ff" opacity="0.9"/>
<circle cx="398.8" cy="162.6" r="1.1" fill="#7fd0ff" opacity="0.9"/>
<circle cx="402.4" cy="168.2" r="1.1" fill="#7fd0ff" opacity="0.9"/>
<circle cx="403.8" cy="174.4" r="1.1" fill="#7fd0ff" opacity="0.9"/>
<circle cx="402.2" cy="180.4" r="1.1" fill="#7fd0ff" opacity="0.9"/>
<circle cx="398.6" cy="185.6" r="1.1" fill="#7fd0ff" opacity="0.9"/>
</g>
<path d="M277.20000000000005,166.6 L292.40000000000003,166.6 Q293.40000000000003,166.6 293.6,167.6 L295.0,178.79999999999998 L274.6,178.79999999999998 L276.0,167.6 Q276.20000000000005,166.6 277.20000000000005,166.6 Z" fill="#3f91f1"/><rect x="274.6" y="178.2" width="20.4" height="9.7" rx="1.2" fill="#4f9cf3"/><rect x="276.6" y="180.0" width="16.4" height="5.7" rx="0.5" fill="#f2f8ff"/><g stroke="#fff" stroke-width="1.5" fill="#fff" stroke-linejoin="round"><path d="M280.8,172.6 L288.8,172.6 M284.8,169.4 L284.8,175.79999999999998" /><polygon points="284.8,167.79999999999998 282.90000000000003,170.0 286.7,170.0" stroke-width="0.3"/><polygon points="284.8,177.4 282.90000000000003,175.2 286.7,175.2" stroke-width="0.3"/><polygon points="278.8,172.6 281.2,170.7 281.2,174.5" stroke-width="0.3"/><polygon points="290.8,172.6 288.40000000000003,170.7 288.40000000000003,174.5" stroke-width="0.3"/></g><rect x="278.5" y="180.8" width="1.6" height="1.2" fill="#3f91f1"/><rect x="281.5" y="180.8" width="1.6" height="1.2" fill="#3f91f1"/><rect x="284.5" y="180.8" width="1.6" height="1.2" fill="#3f91f1"/><rect x="287.5" y="180.8" width="1.6" height="1.2" fill="#3f91f1"/><rect x="290.5" y="180.8" width="1.6" height="1.2" fill="#3f91f1"/><rect x="278.5" y="183.5" width="1.6" height="1.2" fill="#3f91f1"/><rect x="281.5" y="183.5" width="1.6" height="1.2" fill="#3f91f1"/><rect x="284.5" y="183.5" width="1.6" height="1.2" fill="#3f91f1"/><rect x="287.5" y="183.5" width="1.6" height="1.2" fill="#3f91f1"/><rect x="290.5" y="183.5" width="1.6" height="1.2" fill="#3f91f1"/>
<path d="M472.8,166.6 L488.0,166.6 Q489.0,166.6 489.2,167.6 L490.59999999999997,178.79999999999998 L470.2,178.79999999999998 L471.59999999999997,167.6 Q471.8,166.6 472.8,166.6 Z" fill="#3f91f1"/><rect x="470.2" y="178.2" width="20.4" height="9.7" rx="1.2" fill="#4f9cf3"/><rect x="472.2" y="180.0" width="16.4" height="5.7" rx="0.5" fill="#f2f8ff"/><g stroke="#fff" stroke-width="1.5" fill="#fff" stroke-linejoin="round"><path d="M476.4,172.6 L484.4,172.6 M480.4,169.4 L480.4,175.79999999999998" /><polygon points="480.4,167.79999999999998 478.5,170.0 482.29999999999995,170.0" stroke-width="0.3"/><polygon points="480.4,177.4 478.5,175.2 482.29999999999995,175.2" stroke-width="0.3"/><polygon points="474.4,172.6 476.79999999999995,170.7 476.79999999999995,174.5" stroke-width="0.3"/><polygon points="486.4,172.6 484.0,170.7 484.0,174.5" stroke-width="0.3"/></g><rect x="474.1" y="180.8" width="1.6" height="1.2" fill="#3f91f1"/><rect x="477.1" y="180.8" width="1.6" height="1.2" fill="#3f91f1"/><rect x="480.1" y="180.8" width="1.6" height="1.2" fill="#3f91f1"/><rect x="483.1" y="180.8" width="1.6" height="1.2" fill="#3f91f1"/><rect x="486.1" y="180.8" width="1.6" height="1.2" fill="#3f91f1"/><rect x="474.1" y="183.5" width="1.6" height="1.2" fill="#3f91f1"/><rect x="477.1" y="183.5" width="1.6" height="1.2" fill="#3f91f1"/><rect x="480.1" y="183.5" width="1.6" height="1.2" fill="#3f91f1"/><rect x="483.1" y="183.5" width="1.6" height="1.2" fill="#3f91f1"/><rect x="486.1" y="183.5" width="1.6" height="1.2" fill="#3f91f1"/>
<text x="284.4" y="197.5" font-size="5.6" fill="#333" text-anchor="middle" font-weight="normal" >边缘网关</text>
<text x="480" y="197.5" font-size="5.6" fill="#333" text-anchor="middle" font-weight="normal" >边缘网关</text>
<path d="M297.6,207.7 L467.4,207.7 L475.6,218 L467.4,228.2 L297.6,228.2 L289.6,218 Z" fill="url(#banner)"/>
<path d="M297.79999999999995,208.4 L290.4,218 L297.79999999999995,227.6" fill="none" stroke="#b9d7f8" stroke-width="1.3" stroke-linejoin="miter"/>
<path d="M300.2,209.4 L293.4,218 L300.2,226.6" fill="none" stroke="#79b2f3" stroke-width="1.5" stroke-linejoin="miter"/>
<path d="M303,210.6 L297,218 L303,225.4" fill="none" stroke="#1f6fdd" stroke-width="2.1" stroke-linejoin="miter"/>
<path d="M467.40000000000003,208.4 L474.8,218 L467.40000000000003,227.6" fill="none" stroke="#b9d7f8" stroke-width="1.3" stroke-linejoin="miter"/>
<path d="M465.0,209.4 L471.8,218 L465.0,226.6" fill="none" stroke="#79b2f3" stroke-width="1.5" stroke-linejoin="miter"/>
<path d="M462.2,210.6 L468.2,218 L462.2,225.4" fill="none" stroke="#1f6fdd" stroke-width="2.1" stroke-linejoin="miter"/>
<text x="317.6" y="221.6" font-size="8.3" fill="#d4101e" font-weight="bold" textLength="38.9" lengthAdjust="spacingAndGlyphs">AcrelEMS</text><text transform="translate(356.8,220.8) scale(1,1.14)" font-size="7.4" fill="#d4101e" font-weight="bold" textLength="88.2" lengthAdjust="spacingAndGlyphs">企业微电网能效管理平台</text>
<rect x="51.7" y="382.6" width="124.5" height="41.2" rx="5.5" fill="#eef7ea"/>
<rect x="209.5" y="382.6" width="124.2" height="41.2" rx="5.5" fill="#eaf3fd"/>
<rect x="368.2" y="382.6" width="303.2" height="41.2" rx="5.5" fill="#fdeceb"/>
<rect x="77" y="394.1" width="3.3" height="18.7" fill="#6fb544"/><rect x="82.1" y="409.6" width="3.7" height="3.2" fill="#6fb544"/><path d="M88.3,394.1 h12.5 v18.7 h-12.5 Z M91.6,396.9 v13.1 h5.9 v-13.1 Z" fill="#6fb544" fill-rule="evenodd"/>
<path d="M232.7,394.1 H245 V404.8 H235.9 V410.1 H245 V412.8 H232.7 V402 H241.8 V396.9 H232.7 Z" fill="#4ba3f2"/><rect x="246.9" y="409.6" width="3.7" height="3.2" fill="#4ba3f2"/><path d="M252.9,394.1 h12.5 v18.7 h-12.5 Z M256.2,396.9 v13.1 h5.9 v-13.1 Z" fill="#4ba3f2" fill-rule="evenodd"/>
<path d="M394.2,394.1 H406.2 V412.8 H394.2 V410.1 H403 V404.6 H394.2 V402 H403 V396.9 H394.2 Z" fill="#e8604c"/><rect x="408.2" y="409.6" width="3.7" height="3.2" fill="#e8604c"/><path d="M414.4,394.1 h12.5 v18.7 h-12.5 Z M417.7,396.9 v13.1 h5.9 v-13.1 Z" fill="#e8604c" fill-rule="evenodd"/>
<polygon points="189.6,386.6 205.6,403.3 189.2,419.6 183.6,414 194.79999999999998,403.3 184.39999999999998,392.2" fill="url(#dotG)"/>
<polygon points="347.59999999999997,386.6 363.59999999999997,403.3 347.2,419.6 341.59999999999997,414 352.8,403.3 342.4,392.2" fill="url(#dotB)"/>
<text x="108" y="401" font-size="9.35" fill="#1a1a1a" text-anchor="start" font-weight="500" >信息互通</text>
<text x="108" y="413" font-size="9.35" fill="#1a1a1a" text-anchor="start" font-weight="500" >统一管理</text>
<text x="271.3" y="401" font-size="9.35" fill="#1a1a1a" text-anchor="start" font-weight="500" >系统互动</text>
<text x="271.3" y="413" font-size="9.35" fill="#1a1a1a" text-anchor="start" font-weight="500" >高效运行</text>
<text x="435.6" y="401" font-size="9.35" fill="#1a1a1a" text-anchor="start" font-weight="500" >智慧自主运行</text>
<text x="435.6" y="413" font-size="9.35" fill="#1a1a1a" text-anchor="start" font-weight="500" textLength="213" lengthAdjust="spacingAndGlyphs">多能互补/充分自治/能源互联、信息互通、双向互动</text>
</svg></body></html>
